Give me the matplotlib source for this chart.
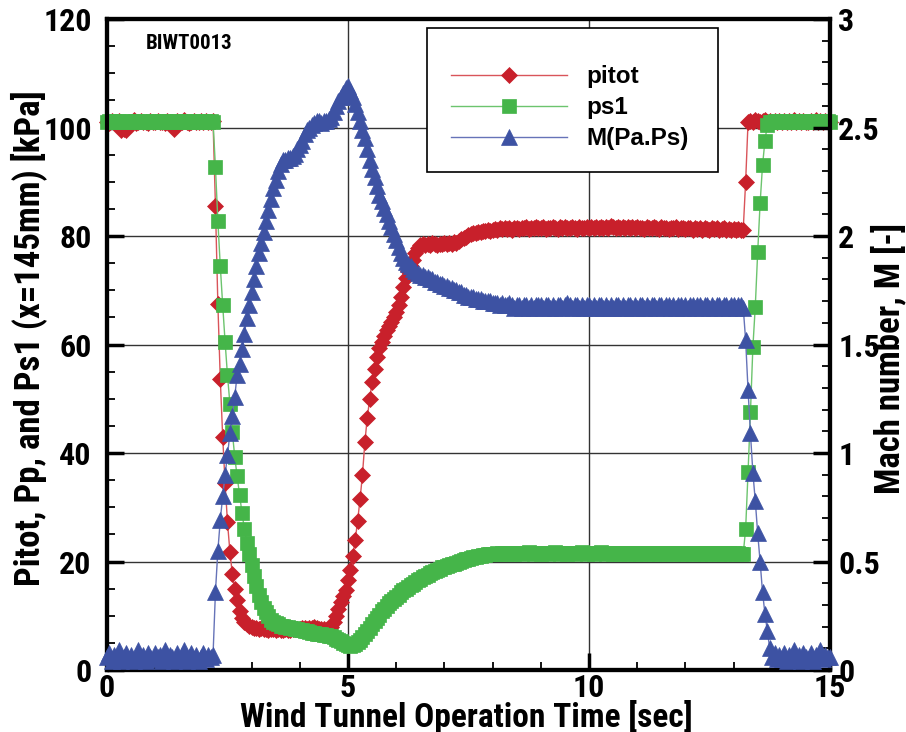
import matplotlib
matplotlib.use("Agg")
import matplotlib.pyplot as plt
from matplotlib.ticker import MultipleLocator, FormatStrFormatter
from matplotlib.patches import Rectangle

# sample times [sec], one row per second
time_s = [
    0.0, 0.05, 0.1, 0.15, 0.2, 0.25, 0.3, 0.35, 0.4, 0.45, 0.5, 0.55, 0.6, 0.65, 0.7, 0.75, 0.8, 0.85, 0.9, 0.95,
    1.0, 1.05, 1.1, 1.15, 1.2, 1.25, 1.3, 1.35, 1.4, 1.45, 1.5, 1.55, 1.6, 1.65, 1.7, 1.75, 1.8, 1.85, 1.9, 1.95,
    2.0, 2.05, 2.1, 2.15, 2.2, 2.25, 2.3, 2.35, 2.4, 2.45, 2.5, 2.55, 2.6, 2.65, 2.7, 2.75, 2.8, 2.85, 2.9, 2.95,
    3.0, 3.05, 3.1, 3.15, 3.2, 3.25, 3.3, 3.35, 3.4, 3.45, 3.5, 3.55, 3.6, 3.65, 3.7, 3.75, 3.8, 3.85, 3.9, 3.95,
    4.0, 4.05, 4.1, 4.15, 4.2, 4.25, 4.3, 4.35, 4.4, 4.45, 4.5, 4.55, 4.6, 4.65, 4.7, 4.75, 4.8, 4.85, 4.9, 4.95,
    5.0, 5.05, 5.1, 5.15, 5.2, 5.25, 5.3, 5.35, 5.4, 5.45, 5.5, 5.55, 5.6, 5.65, 5.7, 5.75, 5.8, 5.85, 5.9, 5.95,
    6.0, 6.05, 6.1, 6.15, 6.2, 6.25, 6.3, 6.35, 6.4, 6.45, 6.5, 6.55, 6.6, 6.65, 6.7, 6.75, 6.8, 6.85, 6.9, 6.95,
    7.0, 7.05, 7.1, 7.15, 7.2, 7.25, 7.3, 7.35, 7.4, 7.45, 7.5, 7.55, 7.6, 7.65, 7.7, 7.75, 7.8, 7.85, 7.9, 7.95,
    8.0, 8.05, 8.1, 8.15, 8.2, 8.25, 8.3, 8.35, 8.4, 8.45, 8.5, 8.55, 8.6, 8.65, 8.7, 8.75, 8.8, 8.85, 8.9, 8.95,
    9.0, 9.05, 9.1, 9.15, 9.2, 9.25, 9.3, 9.35, 9.4, 9.45, 9.5, 9.55, 9.6, 9.65, 9.7, 9.75, 9.8, 9.85, 9.9, 9.95,
    10.0, 10.05, 10.1, 10.15, 10.2, 10.25, 10.3, 10.35, 10.4, 10.45, 10.5, 10.55, 10.6, 10.65, 10.7, 10.75, 10.8, 10.85, 10.9, 10.95,
    11.0, 11.05, 11.1, 11.15, 11.2, 11.25, 11.3, 11.35, 11.4, 11.45, 11.5, 11.55, 11.6, 11.65, 11.7, 11.75, 11.8, 11.85, 11.9, 11.95,
    12.0, 12.05, 12.1, 12.15, 12.2, 12.25, 12.3, 12.35, 12.4, 12.45, 12.5, 12.55, 12.6, 12.65, 12.7, 12.75, 12.8, 12.85, 12.9, 12.95,
    13.0, 13.05, 13.1, 13.15, 13.2, 13.25, 13.3, 13.35, 13.4, 13.45, 13.5, 13.55, 13.6, 13.65, 13.7, 13.75, 13.8, 13.85, 13.9, 13.95,
    14.0, 14.05, 14.1, 14.15, 14.2, 14.25, 14.3, 14.35, 14.4, 14.45, 14.5, 14.55, 14.6, 14.65, 14.7, 14.75, 14.8, 14.85, 14.9, 14.95,
    15.0,
]

# pitot pressure [kPa]
pitot = [
    101.0, 100.9, 101.2, 101.1, 101.0, 101.2, 99.5, 99.8, 99.6, 101.1, 101.0, 101.3, 100.9, 101.1, 101.2, 101.0, 101.1, 100.9, 101.2, 101.0,
    101.1, 101.2, 101.0, 101.1, 100.9, 101.2, 101.0, 101.1, 99.7, 101.2, 101.0, 101.1, 101.3, 101.0, 100.9, 101.1, 101.2, 101.0, 101.1, 101.2,
    101.0, 101.2, 101.1, 101.0, 101.2, 85.5, 67.5, 53.7, 43.0, 34.4, 27.2, 21.8, 17.7, 15.0, 12.9, 10.9, 9.6, 8.8, 8.4, 8.1,
    7.9, 7.8, 7.7, 7.6, 7.7, 7.5, 7.6, 7.4, 7.5, 7.6, 7.4, 7.5, 7.3, 7.4, 7.5, 7.3, 7.4, 7.5, 7.6, 7.5,
    7.6, 7.7, 7.8, 7.6, 7.7, 7.8, 7.9, 7.7, 7.6, 7.5, 7.6, 7.4, 7.6, 7.9, 8.8, 10.0, 11.3, 12.5, 13.6, 14.8,
    16.5, 18.5, 21.0, 24.0, 27.5, 31.5, 36.0, 42.0, 46.5, 50.0, 53.0, 55.5, 57.7, 59.3, 60.5, 61.6, 62.6, 63.4, 64.2, 65.0,
    66.0, 67.2, 68.8, 70.6, 72.2, 73.5, 74.5, 75.5, 76.8, 77.8, 78.3, 78.5, 78.3, 78.6, 78.4, 78.7, 78.5, 78.3, 78.6, 78.5,
    78.7, 78.5, 78.8, 78.6, 78.9, 78.7, 79.0, 79.4, 79.6, 79.9, 80.1, 80.3, 80.5, 80.6, 80.7, 80.8, 80.9, 81.0, 81.1, 81.0,
    81.2, 81.3, 81.2, 81.4, 81.3, 81.5, 81.3, 81.4, 81.2, 81.5, 81.4, 81.3, 81.5, 81.4, 81.6, 81.3, 81.5, 81.4, 81.6, 81.5,
    81.4, 81.6, 81.3, 81.5, 81.4, 81.6, 81.5, 81.3, 81.6, 81.4, 81.7, 81.5, 81.4, 81.6, 81.5, 81.3, 81.6, 81.4, 81.5, 81.7,
    81.5, 81.6, 81.4, 81.7, 81.5, 81.6, 81.4, 81.7, 81.5, 81.8, 81.6, 81.5, 81.7, 81.4, 81.6, 81.5, 81.7, 81.4, 81.6, 81.5,
    81.6, 81.4, 81.5, 81.3, 81.6, 81.4, 81.5, 81.7, 81.4, 81.3, 81.6, 81.4, 81.5, 81.3, 81.5, 81.4, 81.6, 81.3, 81.4, 81.5,
    81.3, 81.5, 81.4, 81.2, 81.4, 81.3, 81.5, 81.2, 81.4, 81.3, 81.2, 81.4, 81.3, 81.5, 81.2, 81.3, 81.4, 81.2, 81.3, 81.1,
    81.3, 81.2, 81.3, 81.1, 81.2, 90.0, 101.0, 101.2, 101.1, 101.3, 101.2, 101.1, 101.2, 101.3, 101.1, 101.2, 101.0, 101.2, 101.1, 101.2,
    101.1, 101.2, 101.0, 101.2, 101.1, 101.3, 101.1, 101.2, 101.0, 101.2, 101.1, 101.0, 101.2, 101.1, 101.3, 101.0, 101.2, 101.1, 101.2, 101.0,
    101.1,
]

# static pressure ps1 [kPa]
ps1 = [
    101.1, 101.2, 101.0, 101.2, 101.1, 101.2, 101.0, 101.1, 101.2, 101.1, 101.0, 101.2, 101.1, 101.2, 101.0, 101.1, 101.2, 101.1, 101.0, 101.2,
    101.1, 101.2, 101.1, 101.0, 101.2, 101.1, 101.2, 101.0, 101.1, 101.2, 101.1, 101.0, 101.2, 101.1, 101.2, 101.1, 101.0, 101.2, 101.1, 101.2,
    101.1, 101.2, 101.0, 101.2, 101.1, 92.7, 82.8, 74.5, 67.3, 60.5, 54.3, 49.0, 43.9, 39.3, 35.7, 32.3, 29.0, 26.0, 23.5, 21.3,
    19.4, 17.3, 15.5, 13.9, 12.6, 11.5, 10.6, 9.9, 9.3, 8.9, 8.6, 8.4, 8.2, 8.1, 8.0, 7.9, 7.8, 7.7, 7.6, 7.5,
    7.4, 7.3, 7.2, 7.1, 7.0, 6.9, 6.8, 6.7, 6.7, 6.6, 6.5, 6.4, 6.3, 6.2, 6.0, 5.8, 5.6, 5.3, 5.0, 4.8,
    4.6, 4.5, 4.6, 4.8, 5.1, 5.5, 6.0, 6.6, 7.2, 7.8, 8.4, 9.0, 9.6, 10.2, 10.8, 11.3, 11.8, 12.3, 12.7, 13.1,
    13.5, 13.9, 14.3, 14.7, 15.0, 15.3, 15.6, 15.9, 16.2, 16.5, 16.8, 17.1, 17.4, 17.6, 17.9, 18.1, 18.3, 18.5, 18.7, 18.9,
    19.0, 19.2, 19.3, 19.5, 19.6, 19.8, 19.9, 20.1, 20.2, 20.4, 20.5, 20.7, 20.8, 20.9, 21.0, 21.1, 21.2, 21.2, 21.3, 21.3,
    21.4, 21.4, 21.5, 21.4, 21.6, 21.5, 21.4, 21.6, 21.5, 21.4, 21.6, 21.5, 21.4, 21.6, 21.5, 21.7, 21.5, 21.4, 21.6, 21.5,
    21.4, 21.6, 21.5, 21.4, 21.6, 21.5, 21.7, 21.5, 21.4, 21.6, 21.5, 21.4, 21.6, 21.5, 21.4, 21.6, 21.5, 21.7, 21.5, 21.4,
    21.6, 21.5, 21.4, 21.6, 21.5, 21.7, 21.5, 21.4, 21.6, 21.5, 21.4, 21.6, 21.5, 21.4, 21.6, 21.5, 21.4, 21.5, 21.6, 21.4,
    21.5, 21.4, 21.6, 21.5, 21.4, 21.5, 21.6, 21.4, 21.5, 21.4, 21.6, 21.5, 21.4, 21.6, 21.5, 21.4, 21.5, 21.6, 21.4, 21.5,
    21.4, 21.6, 21.5, 21.4, 21.5, 21.6, 21.4, 21.5, 21.4, 21.6, 21.5, 21.4, 21.5, 21.6, 21.4, 21.5, 21.4, 21.5, 21.6, 21.4,
    21.5, 21.4, 21.5, 21.4, 21.4, 26.0, 36.5, 47.5, 59.5, 67.0, 77.0, 86.0, 93.0, 97.5, 100.5, 101.1, 101.0, 101.2, 101.1, 101.2,
    101.1, 101.2, 101.1, 101.0, 101.2, 101.1, 101.2, 101.1, 101.0, 101.2, 101.1, 101.2, 101.0, 101.1, 101.2, 101.1, 101.0, 101.2, 101.1, 101.2,
    101.1,
]

# Mach number from Pa/Ps [-]
mach = [
    0.06, 0.08, 0.04, 0.07, 0.05, 0.09, 0.04, 0.06, 0.08, 0.05, 0.07, 0.04, 0.06, 0.09, 0.05, 0.07, 0.04, 0.08, 0.06, 0.05,
    0.08, 0.06, 0.07, 0.04, 0.09, 0.05, 0.07, 0.06, 0.04, 0.08, 0.05, 0.07, 0.09, 0.04, 0.06, 0.08, 0.05, 0.07, 0.04, 0.06,
    0.08, 0.05, 0.07, 0.06, 0.07, 0.36, 0.55, 0.69, 0.80, 0.90, 0.99, 1.09, 1.17, 1.26, 1.36, 1.41, 1.48, 1.55, 1.62, 1.68,
    1.74, 1.80, 1.86, 1.92, 1.97, 2.02, 2.07, 2.12, 2.17, 2.22, 2.26, 2.30, 2.33, 2.35, 2.35, 2.36, 2.36, 2.37, 2.38, 2.40,
    2.42, 2.44, 2.47, 2.49, 2.50, 2.51, 2.52, 2.53, 2.53, 2.52, 2.53, 2.53, 2.54, 2.55, 2.57, 2.60, 2.62, 2.64, 2.66, 2.68,
    2.69, 2.67, 2.64, 2.61, 2.57, 2.53, 2.49, 2.45, 2.40, 2.35, 2.31, 2.27, 2.23, 2.19, 2.16, 2.13, 2.10, 2.07, 2.04, 2.01,
    1.98, 1.95, 1.92, 1.90, 1.88, 1.87, 1.86, 1.85, 1.84, 1.83, 1.82, 1.82, 1.81, 1.81, 1.80, 1.80, 1.79, 1.79, 1.78, 1.78,
    1.77, 1.77, 1.76, 1.76, 1.75, 1.75, 1.74, 1.74, 1.73, 1.73, 1.72, 1.72, 1.72, 1.71, 1.71, 1.71, 1.70, 1.70, 1.70, 1.70,
    1.69, 1.69, 1.69, 1.68, 1.69, 1.68, 1.68, 1.69, 1.68, 1.67, 1.68, 1.68, 1.67, 1.68, 1.68, 1.67, 1.68, 1.67, 1.68, 1.68,
    1.68, 1.67, 1.68, 1.68, 1.67, 1.68, 1.67, 1.68, 1.68, 1.67, 1.68, 1.69, 1.68, 1.67, 1.68, 1.68, 1.67, 1.68, 1.67, 1.68,
    1.68, 1.67, 1.68, 1.67, 1.68, 1.68, 1.67, 1.68, 1.67, 1.68, 1.67, 1.68, 1.68, 1.67, 1.68, 1.67, 1.68, 1.68, 1.67, 1.68,
    1.67, 1.68, 1.68, 1.67, 1.68, 1.67, 1.68, 1.68, 1.67, 1.68, 1.68, 1.67, 1.68, 1.68, 1.67, 1.68, 1.67, 1.68, 1.68, 1.67,
    1.68, 1.67, 1.68, 1.68, 1.67, 1.68, 1.68, 1.67, 1.68, 1.68, 1.67, 1.68, 1.67, 1.68, 1.68, 1.67, 1.68, 1.68, 1.67, 1.68,
    1.68, 1.67, 1.68, 1.68, 1.67, 1.52, 1.29, 1.09, 0.91, 0.78, 0.63, 0.50, 0.36, 0.26, 0.18, 0.10, 0.06, 0.08, 0.05, 0.07,
    0.05, 0.08, 0.04, 0.07, 0.06, 0.09, 0.05, 0.07, 0.04, 0.08, 0.06, 0.05, 0.08, 0.04, 0.07, 0.06, 0.09, 0.05, 0.07, 0.06,
    0.06,
]

RED, RED_L = "#c8202b", "#d9545a"
GREEN, GREEN_L = "#45b549", "#6cc46e"
BLUE, BLUE_L = "#3d52a3", "#6673b8"

COND = ["Roboto Condensed", "DejaVu Sans"]
WIDE = ["Liberation Sans", "DejaVu Sans"]

fig = plt.figure(figsize=(9.06, 7.32), dpi=100)
ax = fig.add_axes([0.1181, 0.0847, 0.798, 0.8893])

l1, = ax.plot(time_s, pitot, color=RED_L, lw=1.0, marker="D", ms=8.5,
              mfc=RED, mec=RED, mew=0.5, clip_on=False, zorder=3, label="pitot")
l2, = ax.plot(time_s, ps1, color=GREEN_L, lw=1.0, marker="s", ms=9.5,
              mfc=GREEN, mec=GREEN, mew=0.5, clip_on=False, zorder=4, label="ps1")

ax2 = ax.twinx()
l3, = ax2.plot(time_s, mach, color=BLUE_L, lw=1.0, marker="^", ms=11,
               mfc=BLUE, mec=BLUE, mew=0.5, clip_on=False, zorder=5, label="M(Pa.Ps)")

ax.set_xlim(0, 15)
ax.set_ylim(0, 120)
ax2.set_ylim(0, 3)

ax.xaxis.set_major_locator(MultipleLocator(5))
ax.xaxis.set_minor_locator(MultipleLocator(1))
ax.yaxis.set_major_locator(MultipleLocator(20))
ax.yaxis.set_minor_locator(MultipleLocator(5))
ax2.yaxis.set_major_locator(MultipleLocator(0.5))
ax2.yaxis.set_minor_locator(MultipleLocator(0.1))
ax2.yaxis.set_major_formatter(FormatStrFormatter("%g"))

ax.grid(True, which="major", color="#333333", lw=1.0)
ax.set_axisbelow(True)

for a in (ax, ax2):
    for s in a.spines.values():
        s.set_linewidth(3)

ax.tick_params(which="both", direction="in", top=False, right=False)
ax.tick_params(which="major", length=12, width=2.5)
ax.tick_params(which="minor", length=6, width=1.3)
ax.tick_params(axis="y", which="major", pad=11)
ax.tick_params(axis="x", which="major", pad=2)
ax2.tick_params(which="both", direction="in", left=False, right=True)
ax2.tick_params(which="major", length=12, width=2.5, pad=6)
ax2.tick_params(which="minor", length=6, width=1.3)

for lab in ax.get_xticklabels() + ax.get_yticklabels() + ax2.get_yticklabels():
    lab.set_family(COND)
    lab.set_fontweight("bold")
    lab.set_fontsize(23)

ax.set_xlabel("Wind Tunnel Operation Time [sec]", family=COND, fontweight="bold", fontsize=24)
ax.set_ylabel("Pitot, Pp, and Ps1 (x=145mm) [kPa]", family=COND, fontweight="bold", fontsize=25)
ax2.set_ylabel("Mach number, M [-]", family=COND, fontweight="bold", fontsize=25)
ax.xaxis.set_label_coords(0.497, -0.046)
ax.yaxis.set_label_coords(-0.083, 0.51)
ax2.yaxis.set_label_coords(1.057, 0.478)

ax.text(0.053, 0.963, "BIWT0013", transform=ax.transAxes, family=COND,
        fontweight="bold", fontsize=15, va="center")

# legend box
ax2.add_patch(Rectangle((0.443, 0.765), 0.402, 0.221, transform=ax2.transAxes,
                        fc="white", ec="black", lw=1.2, zorder=10))
leg = ax2.legend(handles=[l1, l2, l3], loc="upper left", bbox_to_anchor=(0.476, 0.929),
                 frameon=False, handlelength=4.75, handletextpad=0.82, labelspacing=0.33,
                 borderaxespad=0, borderpad=0,
                 prop={"family": WIDE, "weight": "bold", "size": 17.5})
leg.set_zorder(11)

fig.savefig("out.png", dpi=100)
